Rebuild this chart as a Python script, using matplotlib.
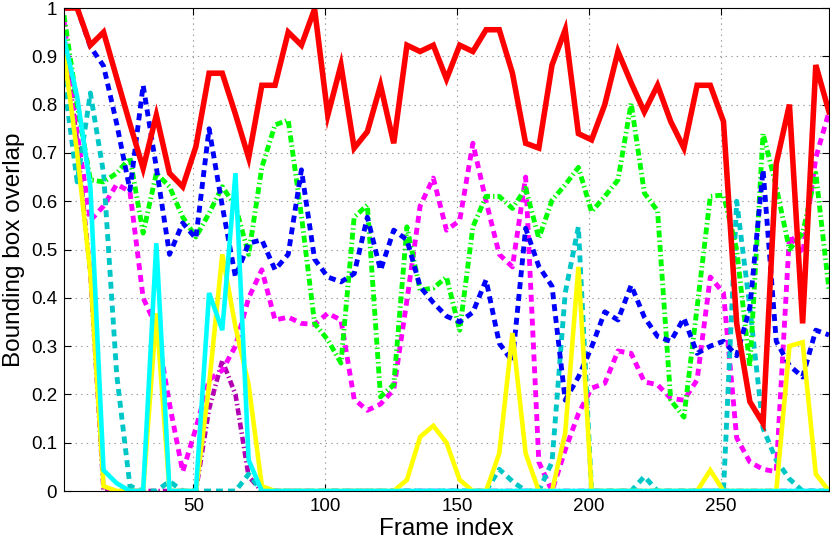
import matplotlib
matplotlib.use('Agg')
import matplotlib.pyplot as plt
import numpy as np

# frame indices: one sample every 5 frames
frames = np.arange(1, 292, 5)

red = [1.0, 1.0, 0.923, 0.95, 0.855, 0.76, 0.668, 0.778, 0.658, 0.63,
       0.713, 0.865, 0.865, 0.78, 0.69, 0.84, 0.84, 0.95, 0.923, 0.998,
       0.778, 0.882, 0.71, 0.744, 0.84, 0.72, 0.923, 0.91, 0.923, 0.853,
       0.923, 0.91, 0.955, 0.955, 0.865, 0.72, 0.71, 0.882, 0.955, 0.74,
       0.727, 0.8, 0.91, 0.845, 0.785, 0.84, 0.765, 0.71, 0.84, 0.84,
       0.765, 0.347, 0.185, 0.14, 0.678, 0.8, 0.347, 0.882, 0.785]

blue = [1.0, 1.0, 0.92, 0.88, 0.76, 0.623, 0.84, 0.67, 0.49, 0.555,
        0.523, 0.75, 0.59, 0.443, 0.513, 0.52, 0.458, 0.49, 0.665, 0.48,
        0.443, 0.433, 0.45, 0.567, 0.457, 0.54, 0.52, 0.423, 0.39, 0.362,
        0.35, 0.37, 0.437, 0.306, 0.268, 0.544, 0.465, 0.424, 0.188, 0.236,
        0.298, 0.371, 0.354, 0.426, 0.36, 0.32, 0.31, 0.358, 0.285, 0.3,
        0.31, 0.28, 0.38, 0.665, 0.31, 0.26, 0.236, 0.333, 0.323]

green = [0.985, 0.8, 0.644, 0.64, 0.658, 0.69, 0.534, 0.658, 0.63, 0.567,
         0.526, 0.575, 0.63, 0.59, 0.49, 0.67, 0.758, 0.768, 0.57, 0.347,
         0.313, 0.265, 0.567, 0.592, 0.195, 0.22, 0.547, 0.416, 0.42, 0.443,
         0.333, 0.547, 0.61, 0.61, 0.585, 0.627, 0.523, 0.602, 0.634, 0.67,
         0.578, 0.61, 0.644, 0.803, 0.617, 0.58, 0.188, 0.153, 0.38, 0.61,
         0.613, 0.5, 0.257, 0.74, 0.63, 0.5, 0.534, 0.658, 0.416]

magenta = [0.975, 0.74, 0.56, 0.59, 0.635, 0.62, 0.4, 0.34, 0.18, 0.04,
           0.13, 0.23, 0.25, 0.3, 0.4, 0.458, 0.354, 0.36, 0.347, 0.345,
           0.368, 0.354, 0.19, 0.167, 0.18, 0.21, 0.395, 0.59, 0.648, 0.54,
           0.56, 0.72, 0.6, 0.49, 0.464, 0.65, 0.06, 0.0, 0.085, 0.16,
           0.213, 0.223, 0.29, 0.285, 0.226, 0.22, 0.192, 0.188, 0.23, 0.443,
           0.41, 0.11, 0.06, 0.045, 0.04, 0.53, 0.49, 0.69, 0.785]

darkcyan = [0.85, 0.64, 0.824, 0.658, 0.24, 0.01, 0.0, 0.0, 0.02, 0.0,
            0.0, 0.0, 0.0, 0.0, 0.035, 0.0, 0.0, 0.0, 0.0, 0.0,
            0.0, 0.0, 0.0, 0.0, 0.0, 0.0, 0.0, 0.0, 0.0, 0.0,
            0.0, 0.0, 0.0, 0.045, 0.02, 0.0, 0.0, 0.06, 0.41, 0.547,
            0.0, 0.0, 0.0, 0.0, 0.03, 0.0, 0.0, 0.0, 0.0, 0.0,
            0.0, 0.6, 0.38, 0.13, 0.064, 0.025, 0.0, 0.0, 0.0]

yellow = [0.907, 0.7, 0.45, 0.01, 0.0, 0.0, 0.0, 0.368, 0.0, 0.0,
          0.0, 0.22, 0.49, 0.34, 0.22, 0.01, 0.0, 0.0, 0.0, 0.0,
          0.0, 0.0, 0.0, 0.0, 0.0, 0.0, 0.023, 0.112, 0.135, 0.1,
          0.023, 0.0, 0.0, 0.078, 0.327, 0.078, 0.0, 0.0, 0.12, 0.464,
          0.0, 0.0, 0.0, 0.0, 0.0, 0.0, 0.0, 0.0, 0.0, 0.043,
          0.0, 0.0, 0.0, 0.0, 0.0, 0.3, 0.308, 0.035, 0.0]

cyan = [0.937, 0.816, 0.63, 0.043, 0.016, 0.0, 0.0, 0.513, 0.0, 0.0,
        0.0, 0.41, 0.333, 0.658, 0.064, 0.0, 0.0, 0.0, 0.0, 0.0,
        0.0, 0.0, 0.0, 0.0, 0.0, 0.0, 0.0, 0.0, 0.0, 0.0,
        0.0, 0.0, 0.0, 0.0, 0.0, 0.0, 0.0, 0.0, 0.0, 0.0,
        0.0, 0.0, 0.0, 0.0, 0.0, 0.0, 0.0, 0.0, 0.0, 0.0,
        0.0, 0.0, 0.0, 0.0, 0.0, 0.0, 0.0, 0.0, 0.0]

purple = [0.95, 0.72, 0.45, 0.0, 0.0, 0.0, 0.0, 0.0, 0.0, 0.0,
          0.0, 0.17, 0.27, 0.2, 0.03, 0.0, 0.0, 0.0, 0.0, 0.0,
          0.0, 0.0, 0.0, 0.0, 0.0, 0.0, 0.0, 0.0, 0.0, 0.0,
          0.0, 0.0, 0.0, 0.0, 0.0, 0.0, 0.0, 0.0, 0.0, 0.0,
          0.0, 0.0, 0.0, 0.0, 0.0, 0.0, 0.0, 0.0, 0.0, 0.0,
          0.0, 0.0, 0.0, 0.0, 0.0, 0.0, 0.0, 0.0, 0.0]

yticks = [0, 0.1, 0.2, 0.3, 0.4, 0.5, 0.6, 0.7, 0.8, 0.9, 1]
xticks = [50, 100, 150, 200, 250]


def main() -> None:
    plt.rcParams['font.family'] = ['Liberation Sans', 'DejaVu Sans']
    plt.rcParams['lines.scale_dashes'] = False

    fig = plt.figure(figsize=(8.3, 5.41), dpi=100)
    ax = fig.add_axes([0.0771, 0.0924, 0.9217, 0.8928])

    dot = (5, 3.6)
    dashdot = (5, 2.2, 1, 2.2)

    # orden de dibujo: lo ultimo queda arriba
    ax.plot(frames, purple, color=(0.7, 0, 0.7), lw=3.3, dashes=dashdot, dash_capstyle='butt')
    ax.plot(frames, magenta, color='#ff00ff', lw=3.5, dashes=dot, dash_capstyle='butt')
    ax.plot(frames, darkcyan, color=(0, 0.78, 0.78), lw=3.5, dashes=dot, dash_capstyle='butt')
    ax.plot(frames, green, color='#00ff00', lw=3.5, dashes=dashdot, dash_capstyle='butt')
    ax.plot(frames, blue, color='#0000ff', lw=3.5, dashes=dot, dash_capstyle='butt')
    ax.plot(frames, yellow, color='#ffff00', lw=3.3, solid_joinstyle='miter')
    ax.plot(frames, cyan, color='#00ffff', lw=3.3, solid_joinstyle='miter')
    ax.plot(frames, red, color='#ff0000', lw=4, solid_joinstyle='miter')

    ax.set_xlim(1, 291)
    ax.set_ylim(0, 1)
    ax.set_xticks(xticks)
    ax.set_yticks(yticks)
    ax.set_yticklabels([f'{v:g}' for v in yticks])

    ax.grid(True, color='#999999', linestyle=(0, (1, 3)), lw=0.8)
    ax.set_axisbelow(True)
    ax.tick_params(direction='in', length=5, width=0.8, top=True, right=True,
                   labelsize=13.5, pad=5)
    for sp in ax.spines.values():
        sp.set_linewidth(0.8)

    ax.set_xlabel('Frame index', fontsize=17.5, labelpad=2)
    ax.set_ylabel('Bounding box overlap', fontsize=17.5, labelpad=4)

    fig.savefig('out.png', dpi=100)


if __name__ == '__main__':
    main()
